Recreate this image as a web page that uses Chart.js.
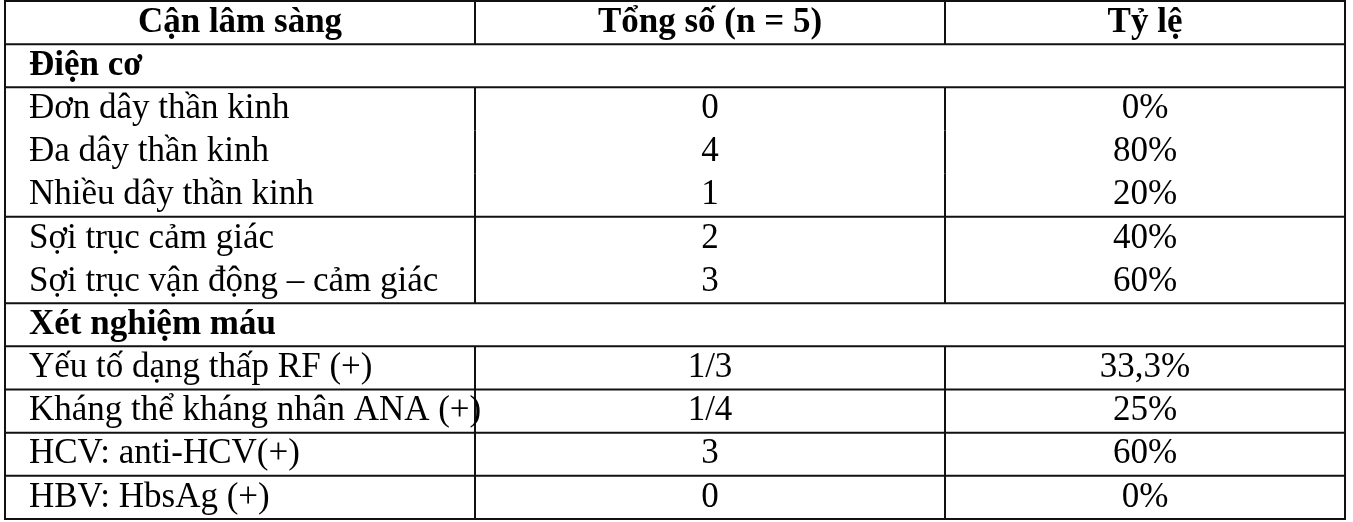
<!DOCTYPE html>
<html><head><meta charset="utf-8">
<script src="https://cdn.jsdelivr.net/npm/chart.js@4"></script>
<style>html,body{margin:0;background:#fff}#wrap{width:1353px;height:522px}</style>
</head><body><div id="wrap"><canvas id="c"></canvas></div>
<script>
// Table content
const headers = ['Cận lâm sàng', 'Tổng số (n = 5)', 'Tỷ lệ'];
const labels = ['Điện cơ', 'Đơn dây thần kinh', 'Đa dây thần kinh', 'Nhiều dây thần kinh',
  'Sợi trục cảm giác', 'Sợi trục vận động – cảm giác', 'Xét nghiệm máu',
  'Yếu tố dạng thấp RF (+)', 'Kháng thể kháng nhân ANA (+)', 'HCV: anti-HCV(+)', 'HBV: HbsAg (+)'];
const counts = ['', '0', '4', '1', '2', '3', '', '1/3', '1/4', '3', '0'];
const rates = ['', '0%', '80%', '20%', '40%', '60%', '', '33,3%', '25%', '60%', '0%'];
const sections = [0, 6];           // rows spanning the whole width
const ruleAfter = [0, 3, 5, 6, 7, 8, 9, 10]; // horizontal rules below these rows

const colEdges = [5, 475, 945, 1345];
const rows = ['header'].concat(labels);
const FONT = '35px "Liberation Serif"';

const tablePlugin = {
  id: 'table',
  afterDraw(chart) {
    const ctx = chart.ctx, x = chart.scales.x, y = chart.scales.y;
    const band = (y.getPixelForValue(1) - y.getPixelForValue(0));
    const top = i => y.getPixelForValue(i) - band / 2;
    const bot = i => y.getPixelForValue(i) + band / 2;
    const px = v => x.getPixelForValue(v);
    ctx.save();
    ctx.strokeStyle = '#111'; ctx.lineWidth = 2;
    ctx.strokeRect(px(colEdges[0]), top(0), px(colEdges[3]) - px(colEdges[0]), bot(rows.length - 1) - top(0));
    const hline = yy => { ctx.beginPath(); ctx.moveTo(px(colEdges[0]), yy); ctx.lineTo(px(colEdges[3]), yy); ctx.stroke(); };
    hline(bot(0));
    ruleAfter.forEach(r => hline(bot(r + 1)));
    // vertical rules, skipping section rows
    [1, 2].forEach(c => {
      for (let i = 0; i < rows.length; i++) {
        if (sections.includes(i - 1)) continue;
        ctx.beginPath(); ctx.moveTo(px(colEdges[c]), top(i)); ctx.lineTo(px(colEdges[c]), bot(i)); ctx.stroke();
      }
    });
    ctx.fillStyle = '#000'; ctx.textBaseline = 'middle';
    const mid = c => (px(colEdges[c]) + px(colEdges[c + 1])) / 2;
    ctx.font = 'bold ' + FONT; ctx.textAlign = 'center';
    headers.forEach((h, c) => ctx.fillText(h, mid(c), y.getPixelForValue(0)));
    labels.forEach((l, i) => {
      const yy = y.getPixelForValue(i + 1);
      ctx.textAlign = 'left';
      ctx.font = (sections.includes(i) ? 'bold ' : '') + FONT;
      ctx.fillText(l, px(colEdges[0]) + 24, yy);
      ctx.font = FONT; ctx.textAlign = 'center';
      ctx.fillText(counts[i], mid(1), yy);
      ctx.fillText(rates[i], mid(2), yy);
    });
    ctx.restore();
  }
};

new Chart(document.getElementById('c'), {
  type: 'scatter',
  data: { labels: rows, datasets: [{ data: [] }] },
  options: {
    responsive: true, maintainAspectRatio: false, animation: false,
    layout: { padding: { top: 1, bottom: 3 } },
    plugins: { legend: { display: false }, tooltip: { enabled: false } },
    scales: {
      x: { type: 'linear', min: 0, max: 1353, display: false },
      y: { type: 'category', labels: rows, offset: true, display: false }
    }
  },
  plugins: [tablePlugin]
});
</script></body></html>
